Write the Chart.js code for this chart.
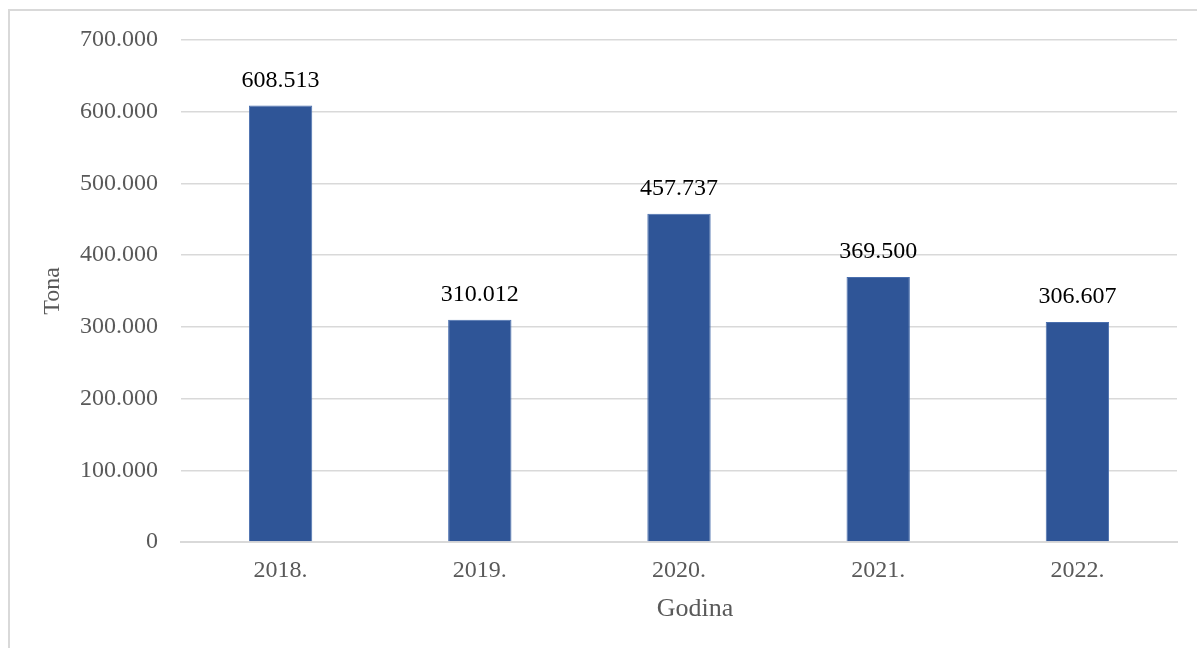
<!DOCTYPE html>
<html lang="hr">
  <head>
    <meta charset="UTF-8" />
    <title>Tona po godinama</title>
    <style>
      html, body { margin: 0; padding: 0; background: #fff; overflow: hidden; }
      .frame {
        position: absolute; left: 8px; top: 9px;
        width: 1300px; height: 700px;
        border: 2px solid #d9d9d9;
      }
      #myChart { position: absolute; left: 0; top: 0; }
    </style>
  </head>
  <body>
    <div class="frame"></div>
    <canvas id="myChart" width="1197" height="648"></canvas>
    <script src="https://cdn.jsdelivr.net/npm/chart.js@4"></script>
    <script>
      var years = ["2018.", "2019.", "2020.", "2021.", "2022."];
      var tons = [608513, 310012, 457737, 369500, 306607];
      var yMax = 700000;
      var yStep = 100000;

      // 千位用點分隔，例如 608.513
      function fmt(v) {
        return String(Math.round(v)).replace(/\B(?=(\d{3})+(?!\d))/g, ".");
      }

      // 在每根柱子上方寫數值，並畫出 x 軸標題（原圖稍微偏右）
      var barLabels = {
        id: "barLabels",
        afterDatasetsDraw: function (chart) {
          var ctx = chart.ctx;
          var meta = chart.getDatasetMeta(0);
          var area = chart.chartArea;
          ctx.save();
          ctx.font = "24px 'Liberation Serif'";
          ctx.fillStyle = "#000";
          ctx.textAlign = "center";
          ctx.textBaseline = "middle";
          meta.data.forEach(function (bar, i) {
            ctx.fillText(fmt(tons[i]), bar.x, bar.y - 25);
          });
          ctx.font = "26px 'Liberation Serif'";
          ctx.fillStyle = "#595959";
          ctx.fillText("Godina", (area.left + area.right) / 2 + 16, 609);
          ctx.restore();
        },
      };

      var ctx = document.getElementById("myChart");
      var myChart = new Chart(ctx, {
        type: "bar",
        data: {
          labels: years,
          datasets: [
            {
              label: "Tona",
              data: tons,
              backgroundColor: "#2F5597",
              borderColor: "#4a6fae",
              borderWidth: 1,
              categoryPercentage: 1,
              barPercentage: 0.318,
            },
          ],
        },
        options: {
          responsive: false,
          maintainAspectRatio: false,
          animation: false,
          layout: { padding: { left: 38, right: 20, top: 40, bottom: 20 } },
          plugins: { legend: { display: false }, tooltip: { enabled: false } },
          scales: {
            x: {
              grid: { display: false, drawTicks: false },
              border: { display: true, color: "#d9d9d9", width: 2 },
              ticks: {
                padding: 14,
                color: "#595959",
                font: { family: "'Liberation Serif'", size: 24 },
              },
              afterFit: function (scale) { scale.height = 86; },
            },
            y: {
              min: 0,
              max: yMax,
              grid: { color: "#d9d9d9", lineWidth: 1.5, drawTicks: false },
              border: { display: false },
              ticks: {
                stepSize: yStep,
                padding: 23,
                color: "#595959",
                font: { family: "'Liberation Serif'", size: 24 },
                callback: function (v) { return fmt(v); },
              },
              title: {
                display: true,
                text: "Tona",
                color: "#595959",
                font: { family: "'Liberation Serif'", size: 24 },
                padding: { top: 0, bottom: 0 },
              },
              afterFit: function (scale) { scale.width = 143; },
            },
          },
        },
        plugins: [barLabels],
      });
    </script>
  </body>
</html>
